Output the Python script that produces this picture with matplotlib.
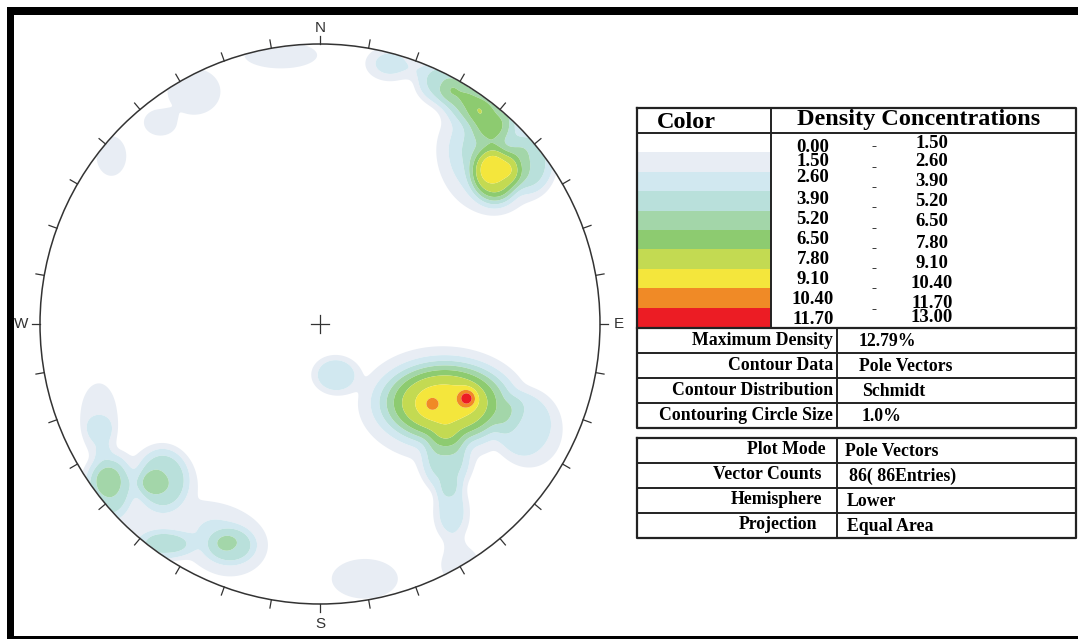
import numpy as np
import matplotlib
matplotlib.use("Agg")
import matplotlib.pyplot as plt
from matplotlib.patches import Rectangle, Circle

W, H, DPI = 1078, 639, 100

# ---- legend / contour levels -------------------------------------------
levels = [0.00, 1.50, 2.60, 3.90, 5.20, 6.50, 7.80, 9.10, 10.40, 11.70, 13.00]
level_colors = ["#FFFFFF", "#E8EDF4", "#D1E8F0", "#B9E0DB", "#A3D6A9",
                "#8DCB70", "#C3DA52", "#F4E63C", "#F08A26", "#EC1C24"]
left_labels = ["0.00", "1.50", "2.60", "3.90", "5.20", "6.50", "7.80", "9.10", "10.40", "11.70"]
right_labels = ["1.50", "2.60", "3.90", "5.20", "6.50", "7.80", "9.10", "10.40", "11.70", "13.00"]

# ---- info tables ---------------------------------------------------------
info1_labels = ["Maximum Density", "Contour Data", "Contour Distribution", "Contouring Circle Size"]
info1_values = ["12.79%", "Pole Vectors", "Schmidt", "1.0%"]
info2_labels = ["Plot Mode", "Vector Counts", "Hemisphere", "Projection"]
info2_values = ["Pole Vectors", "86( 86Entries)", "Lower", "Equal Area"]

compass = ["N", "E", "S", "W"]

# ---- pole concentrations read from the net (unit-circle coordinates) ------
# per concentration: x, y, spread x, spread y, peak contribution, shape exponent
blob_x = [0.43, 0.45, 0.525, 0.40,            # SE main cluster
          0.05, 0.755, 0.45, 0.47, 0.50, 0.16,  # SE / S fringes
          0.625, 0.62, 0.42, 0.52, 0.62, 0.525, 0.25, 0.76, 0.56,  # NE
          -0.14, -0.45, -0.57, -0.745,         # NW fringe
          -0.79, -0.79, -0.755, -0.56, -0.76, -0.62, -0.56, -0.32, -0.32, -0.62]  # SW
blob_y = [-0.29, -0.28, -0.265, -0.285,
          -0.18, -0.38, -0.50, -0.68, -0.86, -0.91,
          0.53, 0.55, 0.87, 0.81, 0.74, 0.81, 0.93, 0.58, 0.66,
          0.96, 0.83, 0.72, 0.60,
          -0.33, -0.37, -0.58, -0.555, -0.55, -0.57, -0.79, -0.79, -0.79, -0.62]
blob_sx = [0.22, 0.16, 0.022, 0.02,
           0.06, 0.085, 0.06, 0.05, 0.06, 0.10,
           0.06, 0.12, 0.06, 0.06, 0.06, 0.025, 0.07, 0.06, 0.10,
           0.11, 0.08, 0.05, 0.045,
           0.055, 0.03, 0.06, 0.065, 0.03, 0.03, 0.07, 0.06, 0.12, 0.22]
blob_sy = [0.16, 0.10, 0.022, 0.02,
           0.05, 0.10, 0.08, 0.08, 0.06, 0.06,
           0.07, 0.12, 0.06, 0.06, 0.06, 0.025, 0.05, 0.08, 0.10,
           0.04, 0.07, 0.04, 0.06,
           0.10, 0.03, 0.085, 0.08, 0.03, 0.03, 0.04, 0.045, 0.10, 0.16]
blob_amp = [3.3, 6.4, 3.5, 1.4,
            2.8, 2.1, 3.2, 2.8, 2.2, 2.1,
            5.3, 3.5, 4.2, 4.2, 4.2, 1.2, 2.8, 3.0, 2.5,
            2.1, 2.1, 2.1, 2.1,
            2.1, 1.5, 3.6, 3.6, 1.3, 1.3, 3.2, 2.9, 2.2, 1.6]
blob_p = [1, 2, 1, 1,
          2, 3, 2, 2, 2, 3,
          2, 1, 1.5, 1.5, 1.5, 1, 2, 2, 1,
          3, 3, 3, 3,
          3, 1, 2, 2, 1, 1, 2, 2, 2, 2]

fig = plt.figure(figsize=(W / DPI, H / DPI), dpi=DPI)
fig.patch.set_facecolor("white")

# ---- stereonet -----------------------------------------------------------
ax = fig.add_axes([12 / W, 7 / H, 616 / W, 616 / H])
ax.set_xlim(-1.1, 1.1)
ax.set_ylim(-1.1, 1.1)
ax.axis("off")

g = np.linspace(-1.0, 1.0, 500)
X, Y = np.meshgrid(g, g)
Z = np.zeros_like(X)
for x0, y0, sx, sy, a, p in zip(blob_x, blob_y, blob_sx, blob_sy, blob_amp, blob_p):
    q = (X - x0) ** 2 / (2 * sx ** 2) + (Y - y0) ** 2 / (2 * sy ** 2)
    Z += a * np.exp(-q ** p)
Z = np.clip(Z, 0, 12.99)
Z = np.ma.masked_where(X ** 2 + Y ** 2 > 1.0, Z)
clip = Circle((0, 0), 1.0, transform=ax.transData, facecolor="none", edgecolor="none")
ax.add_patch(clip)
cs = ax.contourf(X, Y, Z, levels=levels, colors=level_colors, antialiased=True)
cs.set_clip_path(clip)

ax.add_patch(Circle((0, 0), 1.0, facecolor="none", edgecolor="#333333", lw=1.1, zorder=5))
for az in range(0, 360, 10):
    t = np.deg2rad(az)
    ax.plot([np.sin(t), 1.03 * np.sin(t)], [np.cos(t), 1.03 * np.cos(t)],
            color="#333333", lw=0.9, zorder=5)
ax.plot([-0.032, 0.032], [0, 0], color="#333333", lw=0.9, zorder=5)
ax.plot([0, 0], [-0.032, 0.032], color="#333333", lw=0.9, zorder=5)
lab_pos = [(0, 1.058), (1.066, 0), (0, -1.072), (-1.066, 0)]
for lab, (lx, ly) in zip(compass, lab_pos):
    ax.text(lx, ly, lab, ha="center", va="center", fontsize=11,
            family="Liberation Sans", color="#333333")

# ---- overlay in pixel coordinates ---------------------------------------
ov = fig.add_axes([0, 0, 1, 1])
ov.set_xlim(0, W)
ov.set_ylim(H, 0)
ov.axis("off")
ov.patch.set_alpha(0)

# image frame
ov.add_patch(Rectangle((7, 7), W - 7, 8, color="black", lw=0))
ov.add_patch(Rectangle((7, 7), 7, H - 7, color="black", lw=0))
ov.add_patch(Rectangle((7, 636), W - 7, 3, color="black", lw=0))

serif = "Liberation Serif"
lc = "#222222"
XL, XR = 637, 1076

# colour bands
band_top, band_h = 133, 19.4
for i, c in enumerate(level_colors):
    ov.add_patch(Rectangle((638, band_top + i * band_h), 133, band_h, color=c, lw=0))

# table 1 lines
ov.plot([XL, XR, XR, XL, XL], [108, 108, 428, 428, 108], color=lc, lw=1.6)
ov.plot([XL, XR], [133, 133], color=lc, lw=1.4)
ov.plot([XL, XR], [327.5, 327.5], color=lc, lw=1.6)
for yy in [353, 378, 403]:
    ov.plot([XL, XR], [yy, yy], color=lc, lw=1.4)
ov.plot([771, 771], [108, 327.5], color=lc, lw=1.4)
ov.plot([837, 837], [327.5, 428], color=lc, lw=1.4)

ov.text(686, 122, "Color", ha="center", va="center", fontsize=17.5, family=serif, weight="bold")
ov.text(919, 120, "Density Concentrations", ha="center", va="center", fontsize=17.5,
        family=serif, weight="bold")

left_off = [8, 2, -2, 0, 0, 0, 0, 0, 0, 0]
right_off = [2, 0, -1, 0, 0, 1, 1, 1, 1, -4]
for i in range(len(left_labels)):
    ov.text(813, 140 + 20 * i + left_off[i], left_labels[i], ha="center", va="center",
            fontsize=13.5, family=serif, weight="bold")
    ov.text(932, 142 + 20 * i + right_off[i], right_labels[i], ha="center", va="center",
            fontsize=13.5, family=serif, weight="bold")
for i in range(len(left_labels) - 1):
    ov.text(874, 147 + 20.3 * i, "-", ha="center", va="center", fontsize=11,
            family=serif, weight="bold")

for i, (lab, val) in enumerate(zip(info1_labels, info1_values)):
    yc = 340.5 + 25 * i
    ov.text(833, yc, lab, ha="right", va="center", fontsize=12.8, family=serif, weight="bold")
    ov.text(859 + (3 if i >= 2 else 0), yc + 1, val, ha="left", va="center", fontsize=12.8,
            family=serif, weight="bold")

# table 2
ov.plot([XL, XR, XR, XL, XL], [438, 438, 538, 538, 438], color=lc, lw=1.6)
for yy in [463, 488, 513]:
    ov.plot([XL, XR], [yy, yy], color=lc, lw=1.4)
ov.plot([837, 837], [438, 538], color=lc, lw=1.4)
lab_right = [826, 821, 822, 817]
val_left = [845, 849, 847, 847]
for i, (lab, val) in enumerate(zip(info2_labels, info2_values)):
    yc = 450.5 + 25 * i
    ov.text(lab_right[i], yc - 1, lab, ha="right", va="center", fontsize=12.8, family=serif,
            weight="bold")
    ov.text(val_left[i], yc + 1, val, ha="left", va="center", fontsize=12.8, family=serif,
            weight="bold")

fig.savefig("out.png", dpi=DPI)
